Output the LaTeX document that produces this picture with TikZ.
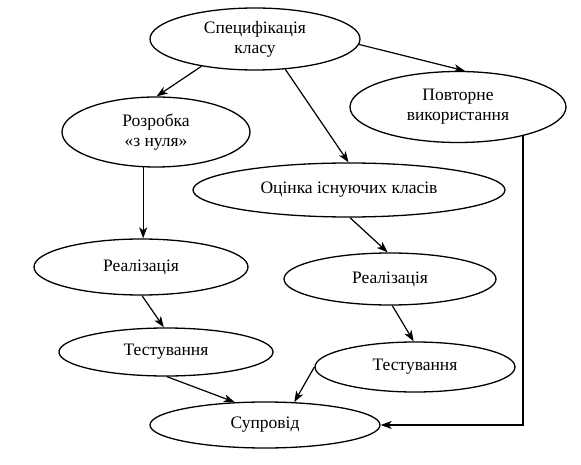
\documentclass[tikz,border=0pt]{standalone}
\usepackage{fontspec}
\setmainfont{Liberation Serif}
\newfontfamily\timesfont{Liberation Serif}
\usetikzlibrary{shapes.geometric,arrows.meta}
\begin{document}
\begin{tikzpicture}[x=1pt,y=-1pt,
  el/.style={draw, ellipse, line width=1.3pt, inner sep=0pt, align=center,
    font=\timesfont\fontsize{17.5}{20}\selectfont},
  arr/.style={line width=1.2pt, -{Stealth[length=11pt,width=8pt,inset=3pt]}}]
\useasboundingbox[fill=white] (0,0) rectangle (581,465);
\node[el, minimum width=210pt, minimum height=62pt] (spec) at (255,39) {Специфікація\\класу};
\node[el, minimum width=216pt, minimum height=71pt] (povt) at (458,107) {Повторне\\використання};
\node[el, minimum width=188pt, minimum height=70pt] (rozr) at (156,132) {Розробка\\«з нуля»};
\node[el, minimum width=312pt, minimum height=54pt] (ocin) at (349,190) {Оцінка існуючих класів};
\node[el, minimum width=214pt, minimum height=56pt] (real1) at (141,267) {Реалізація};
\node[el, minimum width=212pt, minimum height=52pt] (real2) at (390,279) {Реалізація};
\node[el, minimum width=214pt, minimum height=48pt] (test1) at (166,352) {Тестування};
\node[el, minimum width=200pt, minimum height=50pt] (test2) at (415,367) {Тестування};
\node[el, minimum width=230pt, minimum height=46pt] (supr) at (265,425) {Супровід};

\draw[arr] (spec.207) -- (rozr.89);
\draw[arr] (spec.-45) -- (ocin.91);
\draw[arr] (spec.-3) -- (povt.79);
\draw[arr] (rozr.-110) -- (rozr.-110 |- real1.north);
\draw[arr] (povt.-24) -- (povt.-24 |- supr.east) -- (supr.east);
\draw[arr] (ocin.-88) -- (real2.95);
\draw[arr] (real1.-88) -- (test1.95);
\draw[arr] (real2.-85) -- (test2.93);
\draw[arr] (test1.-88) -- (supr.143);
\draw[arr] (test2.west) -- (supr.38);
\end{tikzpicture}
\end{document}
